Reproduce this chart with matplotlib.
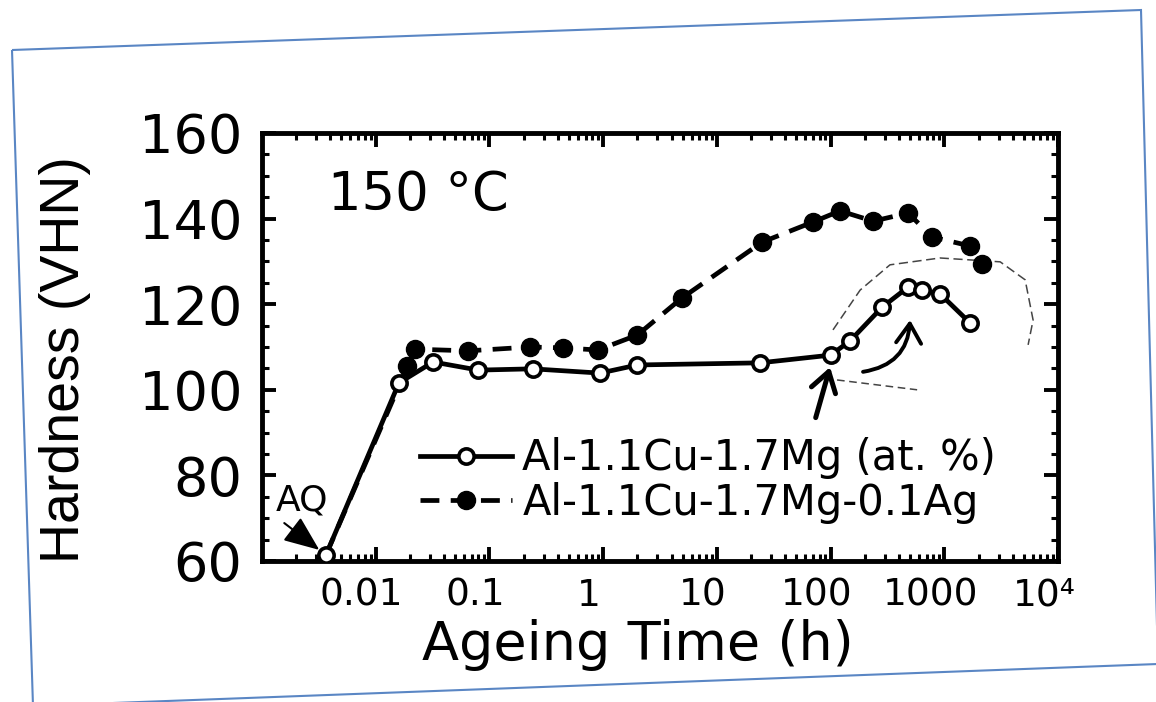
import matplotlib
matplotlib.use("Agg")
import matplotlib.pyplot as plt
import matplotlib.transforms as mtransforms
from matplotlib.ticker import LogLocator, MultipleLocator, FixedLocator, NullFormatter
from matplotlib.lines import Line2D
from matplotlib.patches import Polygon

# ---------------- data ----------------
t_cumg = [0.00365, 0.016, 0.032, 0.08, 0.24, 0.94, 2.0, 24, 100, 148, 284, 481, 638, 919, 1690]
hv_cumg = [61.4, 101.6, 106.5, 104.6, 104.9, 103.9, 105.8, 106.3, 108.1, 111.4, 119.3, 124.0, 123.3, 122.4, 115.6]

t_ag = [0.00365, 0.019, 0.022, 0.065, 0.228, 0.44, 0.90, 2.0, 4.9, 25, 70, 121, 237, 481, 781, 1690, 2150]
hv_ag = [61.4, 105.5, 109.5, 109.1, 110.0, 109.8, 109.3, 112.8, 121.4, 134.5, 139.2, 141.8, 139.4, 141.3, 135.7, 133.6, 129.4]

label_cumg = "Al-1.1Cu-1.7Mg (at. %)"
label_ag = "Al-1.1Cu-1.7Mg-0.1Ag"

x_ticks = [0.01, 0.1, 1, 10, 100, 1000, 10000]
x_ticklabels = ["0.01", "0.1", "1", "10", "100", "1000", "10\u2074"]
y_ticks = [60, 80, 100, 120, 140, 160]

# hand-drawn marks on the scan
loop_t = [105, 182, 333, 918, 3100, 5140, 6040, 5460]
loop_hv = [114.0, 123.3, 129.2, 130.8, 129.9, 125.7, 116.3, 110.5]
under_t = [114, 577]
under_hv = [102.3, 100.0]

# ---------------- figure ----------------
W, H = 1156, 702
fig = plt.figure(figsize=(W / 100, H / 100), dpi=100)
fig.patch.set_facecolor("white")
ax = fig.add_axes([262 / W, 1 - 561 / H, (1058 - 262) / W, (561 - 133) / H])

ax.set_xscale("log")
ax.set_xlim(1e-3, 1e4)
ax.set_ylim(60, 160)

# series
ax.plot(t_ag, hv_ag, color="k", lw=3.4, dashes=(4, 2.4), marker="o", ms=13,
        mfc="k", mec="k", markevery=list(range(1, len(t_ag))), zorder=3)
ax.plot(t_cumg, hv_cumg, color="k", lw=3.4, marker="o", ms=11, mfc="white",
        mec="k", mew=2.6, zorder=4)

# hand-drawn annotations
ax.plot(loop_t, loop_hv, color="#444444", lw=1.1, dashes=(6, 3), zorder=2)
ax.plot(under_t, under_hv, color="#444444", lw=1.1, dashes=(5, 3), zorder=2)
ax.annotate("", xy=(99, 105.3), xytext=(74, 93.5),
            arrowprops=dict(arrowstyle="->,head_length=0.7,head_width=0.45", lw=3.6,
                            color="k", mutation_scale=20, shrinkA=0, shrinkB=0))
ax.annotate("", xy=(500, 116.3), xytext=(193, 104.2),
            arrowprops=dict(arrowstyle="->,head_length=0.7,head_width=0.45", lw=2.8,
                            color="k", mutation_scale=20, shrinkA=0, shrinkB=0,
                            connectionstyle="arc3,rad=0.4"))

# AQ label and arrow
ax.annotate("AQ", xy=(t_cumg[0], hv_cumg[0]), xytext=(-17, 39), textcoords="offset points",
            ha="center", va="center", fontsize=26, family="DejaVu Sans")
ax.annotate("", xy=(t_cumg[0], hv_cumg[0]), xytext=(-30, 23), textcoords="offset points",
            arrowprops=dict(arrowstyle="-|>,head_length=1.1,head_width=0.45", color="k",
                            lw=1.5, mutation_scale=20, shrinkA=0, shrinkB=6))

# temperature label
ax.text(0.196, 0.855, "150 °C", transform=ax.transAxes, ha="center", va="center",
        fontsize=38, family="DejaVu Sans")

# axes styling
for s in ax.spines.values():
    s.set_linewidth(3.5)
ax.xaxis.set_major_locator(FixedLocator(x_ticks))
ax.set_xticklabels(x_ticklabels)
ax.xaxis.set_minor_locator(LogLocator(base=10, subs=range(2, 10), numticks=20))
ax.xaxis.set_minor_formatter(NullFormatter())
ax.set_yticks(y_ticks)
ax.yaxis.set_minor_locator(MultipleLocator(5))
ax.tick_params(which="both", direction="in", top=True, right=True, color="k")
ax.tick_params(which="major", length=10, width=2.8)
ax.tick_params(which="minor", length=5, width=2.2)
ax.tick_params(axis="x", which="major", labelsize=27, pad=12)
ax.tick_params(axis="y", which="major", labelsize=39, pad=14)
for lab in ax.get_xticklabels() + ax.get_yticklabels():
    lab.set_family("DejaVu Sans")
off = mtransforms.ScaledTranslation(-14 / 100, 0, fig.dpi_scale_trans)
for lab in ax.get_xticklabels():
    lab.set_transform(lab.get_transform() + off)

ax.set_xlabel("Ageing Time (h)", fontsize=39, family="DejaVu Sans")
ax.xaxis.set_label_coords(0.472, -0.135)
ax.set_ylabel("Hardness (VHN)", fontsize=40, family="Liberation Sans")
ax.yaxis.set_label_coords(-0.215, 0.47)

# legend
h1 = Line2D([], [], color="k", lw=3.4, marker="o", ms=11, mfc="white", mec="k", mew=2.6)
h2 = Line2D([], [], color="k", lw=3.4, dashes=(4, 2.4), marker="o", ms=13, mfc="k", mec="k")
leg = ax.legend([h1, h2], [label_cumg, label_ag], loc="center left",
                bbox_to_anchor=(0.199, 0.188), frameon=False, fontsize=30,
                handlelength=2.2, handletextpad=0.25, labelspacing=0.05,
                borderaxespad=0, borderpad=0, numpoints=1)
for t in leg.get_texts():
    t.set_family("DejaVu Sans")

# blue border of the scanned insert
pts = [(12, 50), (1141, 10), (1158, 664), (33, 706)]
fig.add_artist(Polygon([(x / W, 1 - y / H) for x, y in pts], closed=True, fill=False,
                       edgecolor="#5a86c4", lw=1.5, transform=fig.transFigure))

fig.savefig("out.png", dpi=100, facecolor="white")
